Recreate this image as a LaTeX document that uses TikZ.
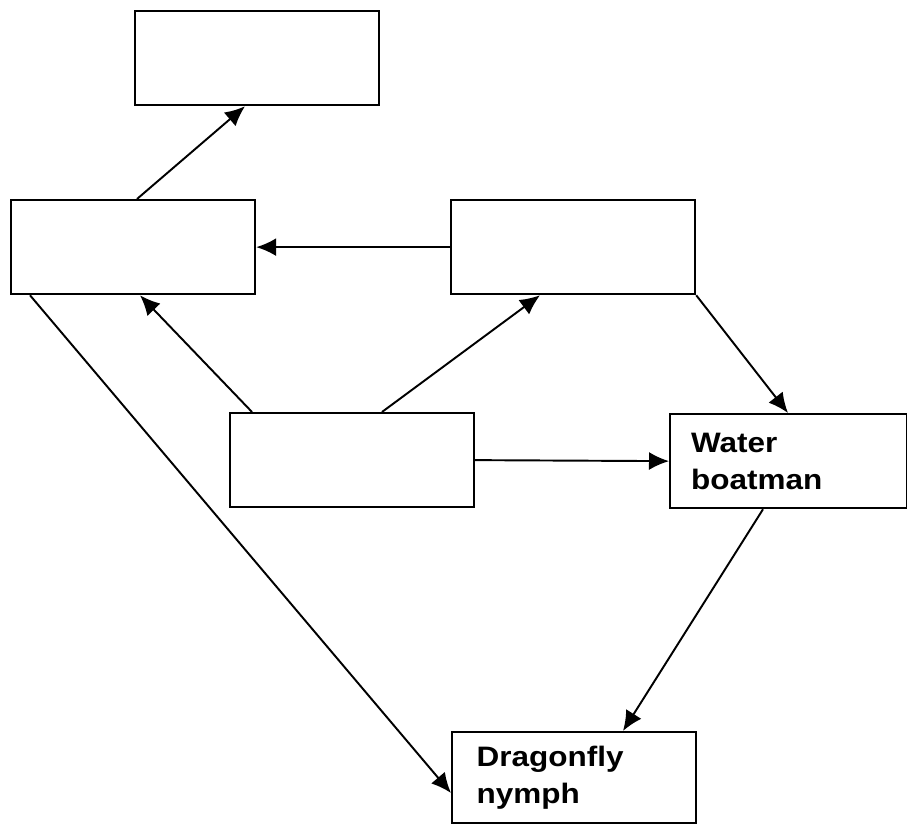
\documentclass[tikz,border=0pt]{standalone}
\usepackage{fontspec}
\setmainfont{Liberation Sans}
\newfontfamily\animalfont[FakeStretch=1.12]{Liberation Sans}
\usetikzlibrary{arrows.meta, positioning, calc}

\begin{document}
\begin{tikzpicture}[x=0.02cm, y=-0.02cm,
    box/.style={rectangle, draw=black, line width=1.3pt, anchor=north west, minimum width=4.88cm, minimum height=1.88cm, inner sep=0pt},
    animal/.style={box, text width=3.9cm, inner xsep=0.42cm, align=left, font=\animalfont\fontsize{16}{21}\selectfont\bfseries},
    line/.style={draw, line width=1.1pt, -{Latex[length=0.4cm, width=0.36cm]}}
]
    \useasboundingbox (0,0) rectangle (907,824);

    \node [box] (top) at (134,10) {};
    \node [box] (left) at (10,199) {};
    \node [box] (right) at (450,199) {};
    \node [box] (centre) at (229,412) {};
    \node [animal, minimum width=4.74cm, text width=3.9cm] (boatman) at (669,413) {Water\\boatman};
    \node [animal, minimum height=1.82cm] (nymph) at (451,731) {Dragonfly\\nymph};

    \path [line] ($(left.north west)+(127,0)$) -- ($(top.south west)+(111,0)$);
    \path [line] (right.west) -- (left.east);
    \path [line] ($(centre.north west)+(23,0)$) -- ($(left.south west)+(130,0)$);
    \path [line] ($(centre.north west)+(153,0)$) -- ($(right.south west)+(90,0)$);
    \path [line] (centre.east) -- (boatman.west);
    \path [line] (right.south east) -- ($(boatman.north west)+(119,0)$);
    \path [line] ($(boatman.south west)+(94,0)$) -- ($(nymph.north west)+(172,0)$);
    \path [line] ($(left.south west)+(20,0)$) -- ($(nymph.north west)+(0,62)$);
\end{tikzpicture}
\end{document}
